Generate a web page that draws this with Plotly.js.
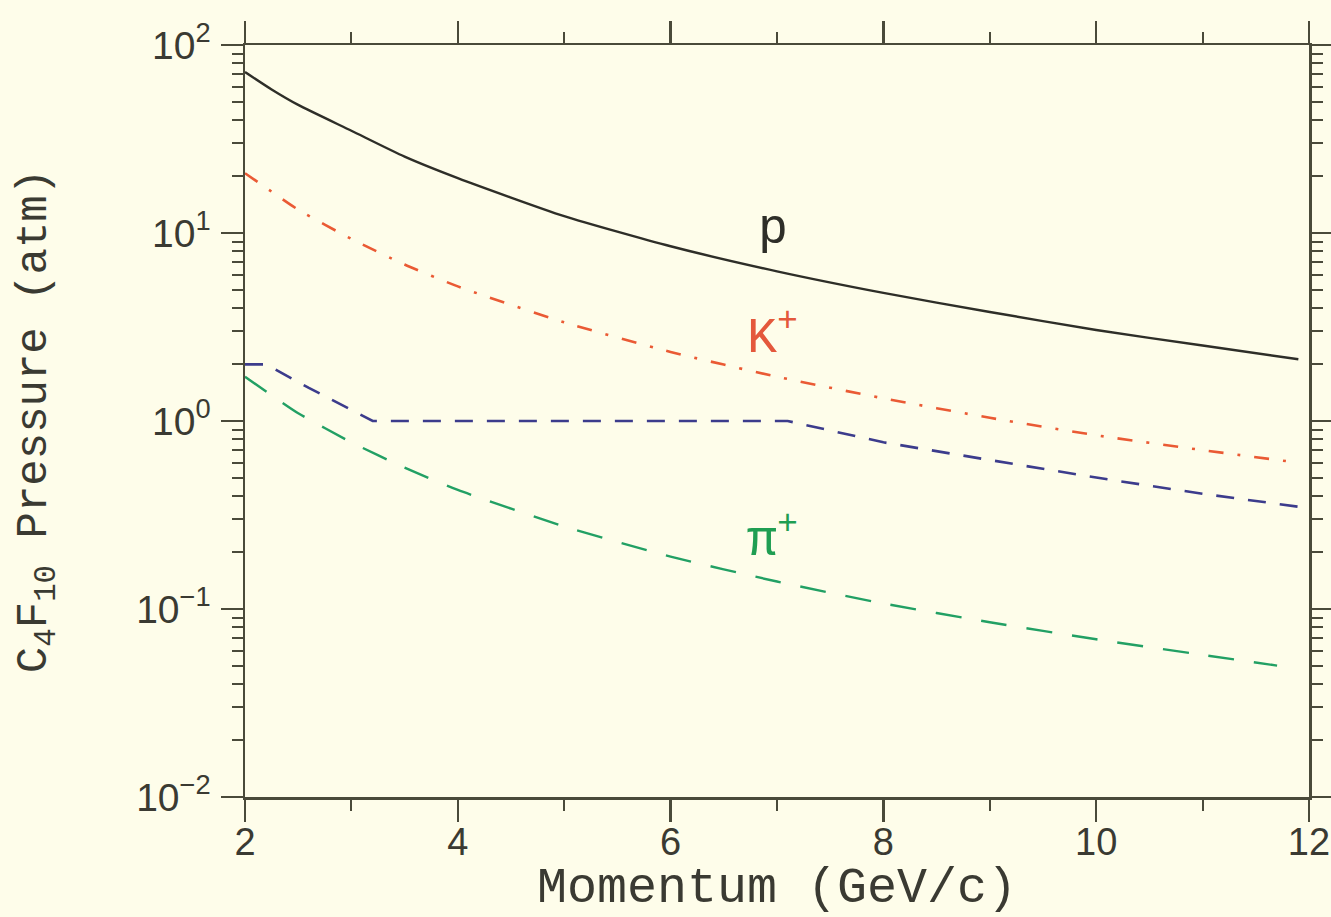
<!DOCTYPE html>
<html>
<head>
<meta charset="utf-8">
<script src="https://cdn.plot.ly/plotly-3.0.1.min.js"></script>
<style>html,body{margin:0;padding:0;background:#fefdea;}#chart{width:1331px;height:917px;}</style>
</head>
<body>
<div id="chart"></div>
<script>
// Momentum (GeV/c)
const momP = [2, 2.25, 2.5, 3, 3.5, 4, 5, 6, 7, 8, 9, 10, 11, 11.9];
const pressP = [71.8, 58, 48, 35, 25.5, 19.6, 12.3, 8.5, 6.25, 4.8, 3.8, 3.05, 2.52, 2.13];

const momK = [2, 2.25, 2.5, 3, 3.5, 4, 5, 6, 7, 8, 9, 10, 11, 11.9];
const pressK = [20.8, 16.6, 13.3, 9.3, 6.8, 5.2, 3.35, 2.33, 1.72, 1.32, 1.04, 0.84, 0.70, 0.60];

const momBlue = [2, 2.2, 2.6, 3.2, 7.1, 8, 9, 10, 11, 11.9];
const pressBlue = [2.0, 2.0, 1.5, 1.0, 1.0, 0.77, 0.62, 0.50, 0.41, 0.35];

const momPi = [2, 2.25, 2.5, 3, 3.5, 4, 5, 6, 7, 8, 9, 10, 11, 11.7];
const pressPi = [1.72, 1.37, 1.1, 0.77, 0.565, 0.43, 0.275, 0.19, 0.14, 0.107, 0.085, 0.069, 0.057, 0.05];

const xTickVals = [2, 4, 6, 8, 10, 12];
const yTickVals = [0.01, 0.1, 1, 10, 100];
const yTickText = ['10<sup>\u22122</sup>', '10<sup>\u22121</sup>', '10<sup>0</sup>', '10<sup>1</sup>', '10<sup>2</sup>'];

const yMinor = [];
for (let e = -2; e < 2; e++) for (let d = 2; d <= 9; d++) yMinor.push(d * Math.pow(10, e));
const xMinor = [3, 5, 7, 9, 11];

const axisColor = '#4a4a3a';
const textColor = '#3a3a32';
const bg = '#fefdea';

const traces = [
  {x: momP, y: pressP, mode: 'lines', line: {color: '#2e2e28', width: 2.4, dash: 'solid', shape: 'spline', smoothing: 0.6}, hoverinfo: 'skip'},
  {x: momK, y: pressK, mode: 'lines', line: {color: '#ea5a34', width: 2.6, dash: '15px,14px,3px,14px', shape: 'spline', smoothing: 0.6}, hoverinfo: 'skip'},
  {x: momBlue, y: pressBlue, mode: 'lines', line: {color: '#3c3c8c', width: 2.6, dash: '18px,14px'}, hoverinfo: 'skip'},
  {x: momPi, y: pressPi, mode: 'lines', line: {color: '#22a064', width: 2.4, dash: '26px,20px', shape: 'spline', smoothing: 0.6}, hoverinfo: 'skip'}
];

const monoFont = 'Liberation Mono, Courier New, monospace';

const layout = {
  width: 1331, height: 917,
  margin: {l: 245, r: 22, t: 45, b: 120},
  paper_bgcolor: bg, plot_bgcolor: bg,
  showlegend: false,
  xaxis: {
    range: [2, 12], tickmode: 'array', tickvals: xTickVals,
    ticks: 'outside', ticklen: 22, tickwidth: 2.5, tickcolor: axisColor,
    showline: true, linecolor: axisColor, linewidth: 2.5, mirror: 'ticks',
    showgrid: false, zeroline: false,
    tickfont: {family: 'Liberation Sans, Arial, sans-serif', size: 38, color: textColor},
    ticklabelstandoff: -12, ticklabeloverflow: 'allow',
    minor: {tickmode: 'array', tickvals: xMinor, ticks: 'outside', ticklen: 11, tickwidth: 2, tickcolor: axisColor, showgrid: false},
    title: {text: 'Momentum (GeV/c)', font: {family: monoFont, size: 50, color: textColor}, standoff: 6}
  },
  yaxis: {
    type: 'log', range: [-2, 2], tickmode: 'array', tickvals: yTickVals, ticktext: yTickText,
    ticks: 'outside', ticklen: 22, tickwidth: 2.5, tickcolor: axisColor,
    showline: true, linecolor: axisColor, linewidth: 2.5, mirror: 'ticks',
    showgrid: false, zeroline: false,
    tickfont: {family: 'Liberation Sans, Arial, sans-serif', size: 39, color: textColor},
    ticklabelstandoff: 2, ticklabeloverflow: 'allow',
    minor: {tickmode: 'array', tickvals: yMinor, ticks: 'outside', ticklen: 11, tickwidth: 2, tickcolor: axisColor, showgrid: false},
    title: {text: 'C<sub>4</sub>F<sub>10</sub> Pressure (atm)', font: {family: monoFont, size: 44, color: textColor}, standoff: 76}
  },
  annotations: [
    {x: 6.96, y: Math.log10(10.5), xref: 'x', yref: 'y', text: 'p', showarrow: false,
     font: {family: monoFont, size: 50, color: '#2e2e28'}},
    {x: 6.96, y: Math.log10(2.9), xref: 'x', yref: 'y', text: 'K<sup>+</sup>', showarrow: false,
     font: {family: monoFont, size: 50, color: '#e4583c'}},
    {x: 6.96, y: Math.log10(0.24), xref: 'x', yref: 'y', text: '\u03c0<sup>+</sup>', showarrow: false,
     font: {family: monoFont, size: 50, color: '#1f9e52'}}
  ]
};

Plotly.newPlot('chart', traces, layout, {displayModeBar: false, staticPlot: true});
</script>
</body>
</html>
